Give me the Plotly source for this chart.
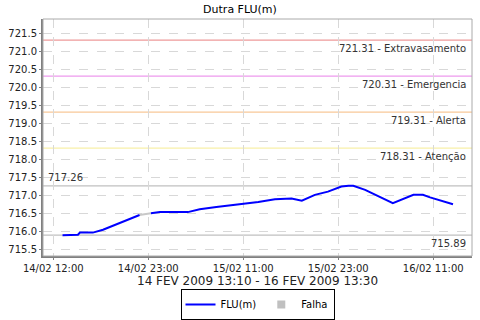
import plotly.graph_objects as go

# FLU(m) readings (time in local standard time)
times_a = ["2009-02-14 12:10", "2009-02-14 14:07", "2009-02-14 14:22", "2009-02-14 16:00",
           "2009-02-14 17:17", "2009-02-14 19:48", "2009-02-14 21:27", "2009-02-14 21:54"]
level_a = [715.89, 715.90, 715.96, 715.96, 716.04, 716.27, 716.41, 716.45]

times_b = ["2009-02-14 23:20", "2009-02-15 00:28", "2009-02-15 04:00", "2009-02-15 05:30",
           "2009-02-15 07:36", "2009-02-15 10:36", "2009-02-15 12:54", "2009-02-15 15:00",
           "2009-02-15 17:06", "2009-02-15 18:24", "2009-02-15 20:03", "2009-02-15 21:42",
           "2009-02-15 23:24", "2009-02-16 00:18", "2009-02-16 00:54", "2009-02-16 02:24",
           "2009-02-16 03:24", "2009-02-16 05:54", "2009-02-16 08:30", "2009-02-16 09:42",
           "2009-02-16 10:36", "2009-02-16 13:30"]
level_b = [716.50, 716.53, 716.53, 716.61, 716.67, 716.75, 716.81, 716.89,
           716.91, 716.85, 717.01, 717.10, 717.24, 717.26, 717.26, 717.15,
           717.04, 716.78, 717.01, 717.01, 716.94, 716.75]

# failure gap
fail_times = ["2009-02-14 21:54", "2009-02-14 23:20"]
fail_level = [716.45, 716.50]

thresholds = [721.31, 720.31, 719.31, 718.31]
threshold_names = ["Extravasamento", "Emergencia", "Alerta", "Atenção"]
threshold_colors = ["#EE9A9A", "#EE9AEE", "#F8C898", "#F8F0A8"]
max_level = 717.26
min_level = 715.89

tick_vals = ["2009-02-14 11:00", "2009-02-14 23:00", "2009-02-15 11:00",
             "2009-02-15 23:00", "2009-02-16 11:00"]
tick_text = ["14/02 12:00", "14/02 23:00", "15/02 11:00", "15/02 23:00", "16/02 11:00"]

FONT = "DejaVu Sans"

fig = go.Figure()
fig.add_trace(go.Scatter(x=fail_times, y=fail_level, mode="lines",
                         line=dict(color="#C8C8C8", width=2), showlegend=False, hoverinfo="skip"))
fig.add_trace(go.Scatter(x=times_a, y=level_a, mode="lines",
                         line=dict(color="#0000FF", width=2), name="FLU(m)", legendgroup="a"))
fig.add_trace(go.Scatter(x=times_b, y=level_b, mode="lines",
                         line=dict(color="#0000FF", width=2), name="FLU(m)", legendgroup="a",
                         showlegend=False))
fig.add_trace(go.Scatter(x=[None], y=[None], mode="markers", name="Falha",
                         marker=dict(symbol="square", size=8, color="#C0C0C0")))

shapes = []
annotations = []
for v, n, c in zip(thresholds, threshold_names, threshold_colors):
    shapes.append(dict(type="line", xref="paper", x0=0, x1=1, yref="y", y0=v, y1=v,
                       line=dict(color=c, width=1.2), layer="below"))
    annotations.append(dict(xref="paper", x=1, xanchor="right", xshift=-4,
                            yref="y", y=v, yanchor="top", yshift=-1,
                            text=f"{v:.2f} - {n}", showarrow=False,
                            font=dict(family=FONT, size=10, color="#333333")))
for v in (max_level, min_level):
    shapes.append(dict(type="line", xref="paper", x0=0, x1=1, yref="y", y0=v, y1=v,
                       line=dict(color="#C0C0C0", width=1.2), layer="below"))
annotations.append(dict(xref="paper", x=0, xanchor="left", xshift=3, yref="y", y=max_level,
                        yanchor="bottom", yshift=1, text=f"{max_level:.2f}", showarrow=False,
                        font=dict(family=FONT, size=10, color="#333333")))
annotations.append(dict(xref="paper", x=1, xanchor="right", xshift=-4, yref="y", y=min_level,
                        yanchor="top", yshift=-1, text=f"{min_level:.2f}", showarrow=False,
                        font=dict(family=FONT, size=10, color="#333333")))
# plot outline
shapes.append(dict(type="rect", xref="paper", yref="paper", x0=0, x1=1, y0=0, y1=1,
                   line=dict(color="#AAAAAA", width=1)))

H_PLOT = 237
def py(px):
    return 1 - (px - 19) / H_PLOT

annotations.append(dict(xref="paper", x=0.5, yref="paper", y=py(281), yanchor="middle",
                        text="14 FEV 2009 13:10 - 16 FEV 2009 13:30", showarrow=False,
                        font=dict(family=FONT, size=12, color="#222222")))

fig.update_layout(
    width=480, height=320,
    margin=dict(l=43, r=8, t=19, b=64, autoexpand=False),
    paper_bgcolor="white", plot_bgcolor="white",
    title=dict(text="Dutra FLU(m)", x=0.5, xanchor="center", xref="container",
               y=1 - 9 / 320, yanchor="middle", yref="container",
               font=dict(family=FONT, size=11, color="#000000")),
    font=dict(family=FONT, size=10, color="#222222"),
    showlegend=True,
    legend=dict(orientation="h", x=0.5, xanchor="center", y=py(320), yanchor="bottom",
                bordercolor="#000000", borderwidth=1, bgcolor="white",
                font=dict(family=FONT, size=10, color="#000000"),
                itemwidth=30, tracegroupgap=0),
    shapes=shapes, annotations=annotations,
)
fig.update_xaxes(type="date", range=["2009-02-14 09:42", "2009-02-16 15:54"],
                 tickvals=tick_vals, ticktext=tick_text,
                 showgrid=True, gridcolor="#D8D8D8", griddash="dash", gridwidth=1,
                 showline=True, linecolor="#808080", linewidth=2,
                 ticks="outside", ticklen=2, tickcolor="#808080",
                 tickfont=dict(family=FONT, size=10, color="#222222"),
                 zeroline=False, automargin=False)
fig.update_yaxes(range=[715.31, 721.9], dtick=0.5, tick0=715.5, tickformat=".1f",
                 showgrid=True, gridcolor="#D8D8D8", griddash="dash", gridwidth=1,
                 showline=True, linecolor="#808080", linewidth=2,
                 ticks="outside", ticklen=2, tickcolor="#808080",
                 tickfont=dict(family=FONT, size=10, color="#222222"),
                 zeroline=False, automargin=False)

fig.write_html("out.html")
